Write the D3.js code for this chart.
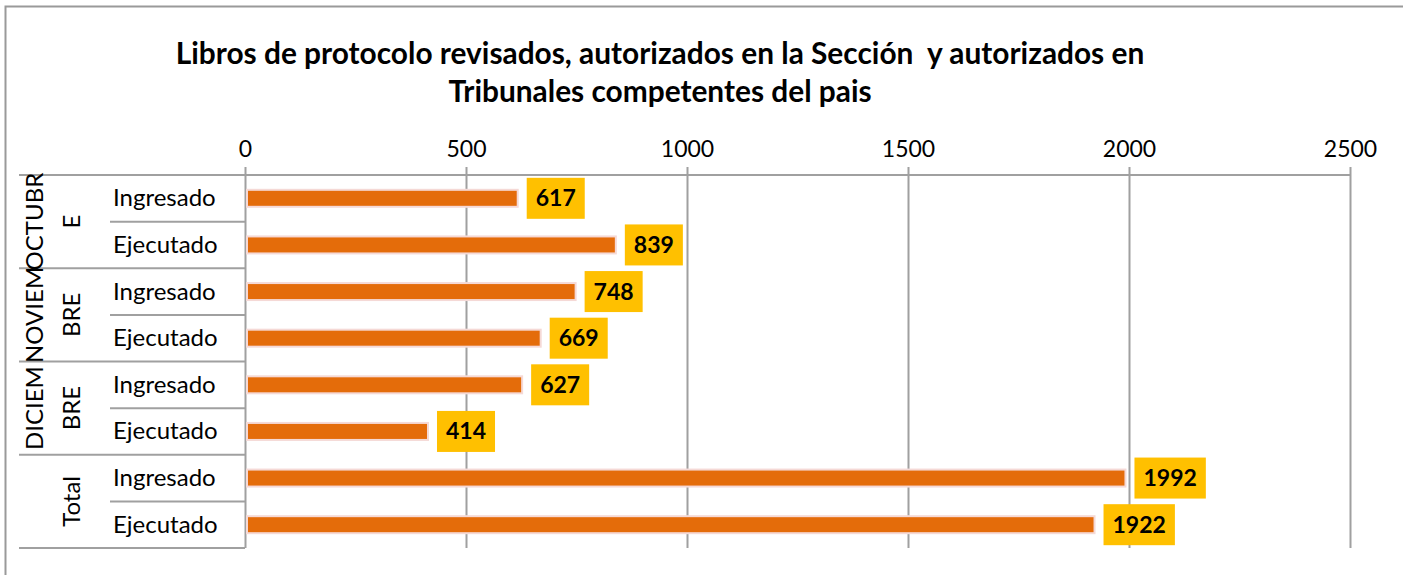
<!DOCTYPE html>
<html>
<head>
<meta charset="utf-8">
<script src="https://cdn.jsdelivr.net/npm/d3@7"></script>
<style>
  html, body { margin: 0; padding: 0; background: #fff; overflow: hidden; }
  svg { display: block; }
  text { font-family: Lato, "Open Sans", sans-serif; fill: #000; }
</style>
</head>
<body>
<svg id="chart" width="1403" height="575"></svg>
<script>
// ---- data ----
const titleLines = ["Libros de protocolo revisados, autorizados en la Sección  y autorizados en", "Tribunales competentes del pais"];
const months = ["OCTUBRE", "NOVIEMBRE", "DICIEMBRE", "Total"];
const monthLabelLines = [["OCTUBR", "E"], ["NOVIEM", "BRE"], ["DICIEM", "BRE"], ["Total"]];
const seriesNames = ["Ingresado", "Ejecutado"];
const ingresado = [617, 748, 627, 1992];
const ejecutado = [839, 669, 414, 1922];
const tickValues = [0, 500, 1000, 1500, 2000, 2500];

// build rows
const rows = [];
months.forEach((m, i) => {
  rows.push({ month: m, series: seriesNames[0], value: ingresado[i], key: m + "|" + seriesNames[0] });
  rows.push({ month: m, series: seriesNames[1], value: ejecutado[i], key: m + "|" + seriesNames[1] });
});

const svg = d3.select("#chart");

const x = d3.scaleLinear().domain([0, 2500]).range([245, 1350]);
const y = d3.scaleBand().domain(rows.map(d => d.key)).range([175, 548]).padding(0);
const plotTop = 175, plotBottom = 548, tickTop = 167;
const gridColor = "#a0a0a0";

// title
const titleT = svg.append("g").selectAll("text").data(titleLines).join("text")
  .attr("x", 660).attr("y", (d, i) => 64 + i * 38)
  .attr("text-anchor", "middle")
  .attr("xml:space", "preserve")
  .style("white-space", "pre")
  .style("font-weight", "bold").style("font-size", "26px")
  .text(d => d);
const w0 = titleT.nodes()[0].getComputedTextLength();
const titleSize = Math.min(31, 26 * 969 / w0);
titleT.style("font-size", titleSize + "px");

// gridlines + top axis
const axisG = svg.append("g").attr("transform", `translate(0,${plotTop})`)
  .call(d3.axisTop(x).tickValues(tickValues).tickSize(plotTop - tickTop).tickPadding(10).tickFormat(d3.format("d")));
axisG.select(".domain").remove();
axisG.selectAll(".tick line").attr("stroke", gridColor).attr("stroke-width", 2)
  .attr("y1", plotBottom - plotTop);
axisG.selectAll(".tick text").style("font-size", "23px").style("font-family", "Lato, sans-serif").attr("fill", "#000");

svg.append("line").attr("x1", 19).attr("x2", x(2500)).attr("y1", plotTop).attr("y2", plotTop)
  .attr("stroke", gridColor).attr("stroke-width", 2);

// left category table lines
const tbl = svg.append("g");
rows.forEach((d, i) => {
  const yy = y(d.key) + y.bandwidth();
  const isGroupEnd = i % 2 === 1;
  tbl.append("line")
    .attr("x1", isGroupEnd ? 19 : 110).attr("x2", 245)
    .attr("y1", yy).attr("y2", yy)
    .attr("stroke", gridColor).attr("stroke-width", 2);
});

// series labels
svg.append("g").selectAll("text").data(rows).join("text")
  .attr("x", 113)
  .attr("y", d => y(d.key) + y.bandwidth() / 2 + 8)
  .style("font-size", "24px")
  .text(d => d.series);

// month labels (rotated)
months.forEach((m, i) => {
  const cy = y(m + "|" + seriesNames[0]) + y.bandwidth();
  const lines = monthLabelLines[i];
  const g = svg.append("g");
  lines.forEach((ln, j) => {
    const bx = lines.length === 1 ? 80 : (j === 0 ? 43 : 80);
    g.append("text")
      .attr("transform", `translate(${bx},${cy}) rotate(-90)`)
      .attr("text-anchor", "middle")
      .style("font-size", "24px")
      .text(ln);
  });
});

// bars
const bh = 17;
svg.append("g").selectAll("rect.bar").data(rows).join("rect")
  .attr("class", "bar")
  .attr("x", x(0) + 2)
  .attr("y", d => y(d.key) + y.bandwidth() / 2 - bh / 2)
  .attr("width", d => x(d.value) - x(0) - 2)
  .attr("height", bh)
  .attr("fill", "#E46C0A")
  .attr("stroke", "#F5D9D6").attr("stroke-width", 2);

// data labels
const lblG = svg.append("g");
rows.forEach(d => {
  const cy = y(d.key) + y.bandwidth() / 2;
  const g = lblG.append("g");
  const t = g.append("text")
    .attr("text-anchor", "middle")
    .style("font-weight", "bold").style("font-size", "23px")
    .text(d.value);
  const w = t.node().getComputedTextLength() + 18;
  const bx = x(d.value) + 9;
  g.insert("rect", "text")
    .attr("x", bx).attr("y", cy - 20.5).attr("width", w).attr("height", 41)
    .attr("fill", "#FFC000");
  t.attr("x", bx + w / 2).attr("y", cy + 8);
});

// right margin kept clear
svg.append("rect").attr("x", 1385).attr("y", 9).attr("width", 18).attr("height", 566).attr("fill", "#fff");

// outer border (left + top visible)
svg.append("path")
  .attr("d", "M5.5,575 V6.5 H1403")
  .attr("fill", "none").attr("stroke", "#9a9a9a").attr("stroke-width", 2);
</script>
</body>
</html>
